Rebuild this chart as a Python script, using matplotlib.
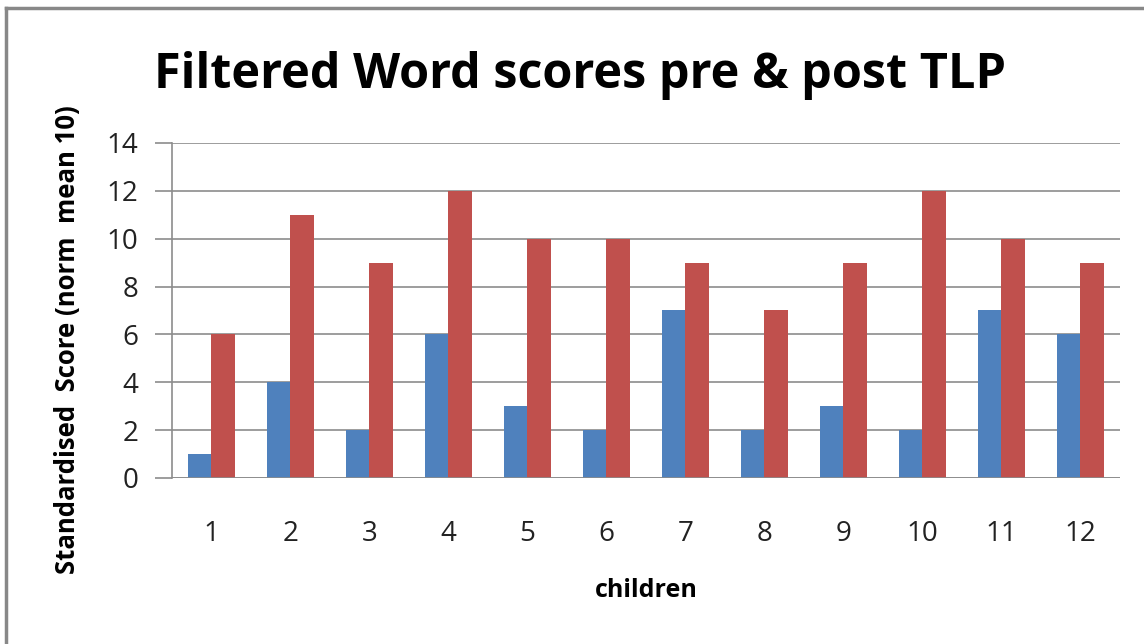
import numpy as np
import matplotlib
matplotlib.use("Agg")
import matplotlib.pyplot as plt
from matplotlib.lines import Line2D

children = ['1', '2', '3', '4', '5', '6', '7', '8', '9', '10', '11', '12']
pre_tlp = [1, 4, 2, 6, 3, 2, 7, 2, 3, 2, 7, 6]
post_tlp = [6, 11, 9, 12, 10, 10, 9, 7, 9, 12, 10, 9]

plt.rcParams['font.family'] = ['Open Sans', 'DejaVu Sans']

fig = plt.figure(figsize=(11.44, 6.44), dpi=100)
ax = fig.add_axes([0.1503, 0.2578, 0.8287, 0.5202])

x = np.arange(len(children))
w = 0.3
ax.bar(x - w / 2, pre_tlp, w, color='#4f81bd', zorder=3)
ax.bar(x + w / 2, post_tlp, w, color='#c0504d', zorder=3)

ax.set_xlim(-0.5, len(children) - 0.5)
ax.set_ylim(0, 14)
ax.set_yticks(range(0, 15, 2))
ax.set_xticks(x)
ax.set_xticklabels(children)
ax.yaxis.grid(True, color='#8c8c8c', linewidth=1.2, zorder=0)

for s in ['top', 'right', 'bottom']:
    ax.spines[s].set_visible(False)
ax.spines['left'].set_color('#8c8c8c')
ax.spines['left'].set_linewidth(1.2)
ax.axhline(0, color='#8c8c8c', linewidth=1.2, zorder=4)

ax.tick_params(axis='y', length=12, color='#8c8c8c', width=1.2, labelsize=20, pad=12,
               labelcolor='#222222')
ax.tick_params(axis='x', length=0, labelsize=20, pad=30, labelcolor='#222222')

ax.set_xlabel('children', fontsize=18, fontweight='bold', labelpad=22)
fig.text(0.0594, 0.472, 'Standardised  Score (norm  mean 10)', rotation=90,
         ha='center', va='center', fontsize=18.5, fontweight='bold')
fig.text(0.507, 0.883, 'Filtered Word scores pre & post TLP', ha='center', va='center',
         fontsize=35, fontweight='bold')

# chart area border (top and left edges visible)
fig.add_artist(Line2D([0.0052, 1.0], [0.9876, 0.9876], color='#888888', linewidth=2.5,
                      transform=fig.transFigure))
fig.add_artist(Line2D([0.0052, 0.0052], [0.0, 0.9876], color='#888888', linewidth=2.5,
                      transform=fig.transFigure))

fig.savefig('out.png', dpi=100)
